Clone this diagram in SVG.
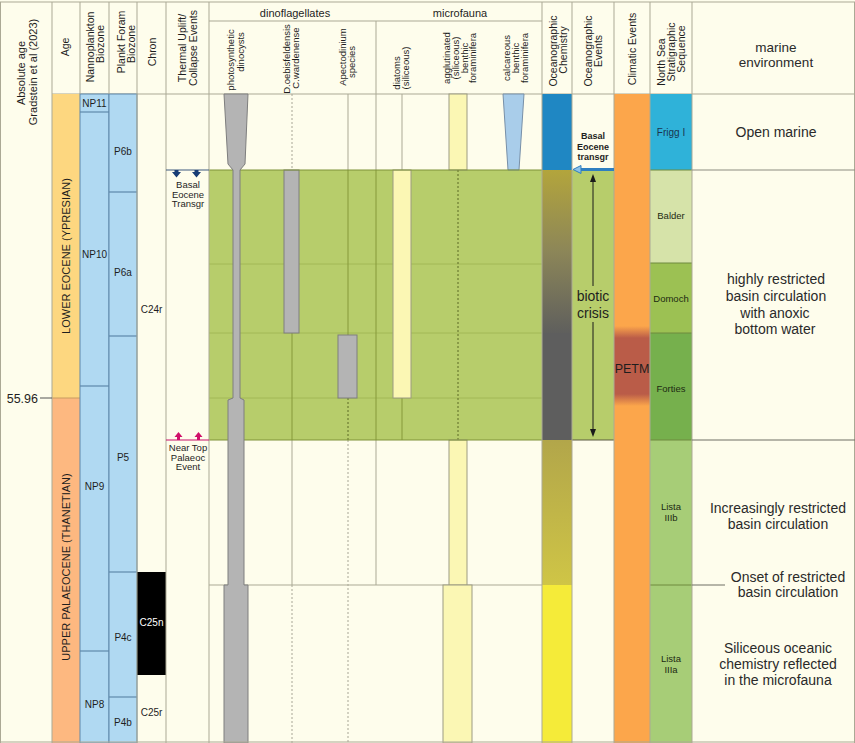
<svg xmlns="http://www.w3.org/2000/svg" width="855" height="743" viewBox="0 0 855 743">
<defs>
<style>
.t{font-family:"Liberation Sans",Arial,sans-serif;fill:#1e1e1e}
.h{font-size:10.5px;text-anchor:middle}
.s{font-size:9.5px;text-anchor:middle}
.z{font-size:10px;text-anchor:middle}
.env{font-size:14px;text-anchor:middle;fill:#2a2a2a}
.ns{font-size:9.5px;text-anchor:middle;fill:#1d2a12}
.grid{stroke:#ABA995;stroke-width:1;fill:none}
.dot{stroke:#A8A696;stroke-width:1;stroke-dasharray:2 2;fill:none}
.gl{stroke:#86993B;stroke-width:1;fill:none}
.gf{stroke:#A2B856;stroke-width:1;fill:none}
.gdot{stroke:#5C6B26;stroke-width:1;stroke-dasharray:2 2;fill:none}
.blue{fill:#B0D9F2;stroke:#5E88AA;stroke-width:1}
.bl{stroke:#5E88AA;stroke-width:1.2}
.bar{fill:#B4B4B4;stroke:#7E7E7E;stroke-width:1}
.yb{fill:#FBF7B4;stroke:#9C9B82;stroke-width:1}
.green{fill:#B7CD6B}
.nsb{stroke:#6E8A3E;stroke-width:1}
</style>
<linearGradient id="chem1" x1="0" y1="0" x2="0" y2="1">
<stop offset="0" stop-color="#B3A53C"/>
<stop offset="0.5" stop-color="#8C8658"/>
<stop offset="1" stop-color="#5F5F5D"/>
</linearGradient>
<linearGradient id="chem2" x1="0" y1="0" x2="0" y2="1">
<stop offset="0" stop-color="#B2A64A"/>
<stop offset="1" stop-color="#CFC546"/>
</linearGradient>
<linearGradient id="petm" x1="0" y1="0" x2="0" y2="1">
<stop offset="0" stop-color="#FCA64B"/>
<stop offset="0.15" stop-color="#BA5C48"/>
<stop offset="0.85" stop-color="#BA5C48"/>
<stop offset="1" stop-color="#FCA64B"/>
</linearGradient>
</defs>

<rect x="0" y="0" width="855" height="743" fill="#FEFDEC"/>

<!-- Header -->
<g id="header">
<line class="grid" x1="0" y1="2" x2="855" y2="2"/>
<line class="grid" x1="52" y1="94" x2="855" y2="94"/>
<line class="grid" x1="209" y1="21" x2="542" y2="21"/>
<line class="grid" x1="376" y1="21" x2="376" y2="94"/>
<text class="t" font-size="11" text-anchor="middle" transform="translate(24.5,73) rotate(-90)">Absolute age</text>
<text class="t" font-size="11" text-anchor="middle" transform="translate(36.5,72) rotate(-90)">Gradstein et al (2023)</text>
<text class="t h" transform="translate(68.7,47) rotate(-90)">Age</text>
<text class="t h" transform="translate(93.7,47) rotate(-90)">Nannoplankton</text>
<text class="t h" transform="translate(103.7,44) rotate(-90)">Biozone</text>
<text class="t h" transform="translate(124.7,42) rotate(-90)">Plankt Foram</text>
<text class="t h" transform="translate(134.7,44) rotate(-90)">Biozone</text>
<text class="t h" transform="translate(155.7,52) rotate(-90)">Chron</text>
<text class="t h" transform="translate(185.7,48) rotate(-90)">Thermal Uplift/</text>
<text class="t h" transform="translate(196.7,48) rotate(-90)">Collapse Events</text>
<text class="t" font-size="11" text-anchor="middle" x="295" y="17">dinoflagellates</text>
<text class="t" font-size="11" text-anchor="middle" x="460" y="17">microfauna</text>
<text class="t s" transform="translate(234.3,60) rotate(-90)">photosynthetic</text>
<text class="t s" transform="translate(244.3,52) rotate(-90)">dinocysts</text>
<text class="t s" transform="translate(290.3,59) rotate(-90)">D.oebisfeldensis</text>
<text class="t s" transform="translate(299.3,58) rotate(-90)">C.wardenense</text>
<text class="t s" transform="translate(346.3,57) rotate(-90)">Apectodinium</text>
<text class="t s" transform="translate(355.3,62) rotate(-90)">species</text>
<text class="t s" transform="translate(400.3,73) rotate(-90)">diatoms</text>
<text class="t s" transform="translate(409.3,68) rotate(-90)">(siliceous)</text>
<text class="t s" transform="translate(450.3,58) rotate(-90)">agglutinated</text>
<text class="t s" transform="translate(458.8,58) rotate(-90)">(siliceous)</text>
<text class="t s" transform="translate(467.8,58) rotate(-90)">benthic</text>
<text class="t s" transform="translate(476.3,58) rotate(-90)">foraminifera</text>
<text class="t s" transform="translate(510.3,58) rotate(-90)">calcareous</text>
<text class="t s" transform="translate(518.8,58) rotate(-90)">benthic</text>
<text class="t s" transform="translate(528.3,58) rotate(-90)">foraminifera</text>
<text class="t h" transform="translate(556.7,51) rotate(-90)">Oceanographic</text>
<text class="t h" transform="translate(566.7,50) rotate(-90)">Chemistry</text>
<text class="t h" transform="translate(592.2,51) rotate(-90)">Oceanographic</text>
<text class="t h" transform="translate(602.2,51) rotate(-90)">Events</text>
<text class="t h" transform="translate(635.7,49) rotate(-90)">Climatic Events</text>
<text class="t h" transform="translate(664.7,62) rotate(-90)">North Sea</text>
<text class="t h" transform="translate(674.7,52) rotate(-90)">Stratigraphic</text>
<text class="t h" transform="translate(684.7,49) rotate(-90)">Sequence</text>
<text class="t env" style="font-size:13.5px" x="776" y="51.5">marine</text>
<text class="t env" style="font-size:13.5px" x="776" y="67">environment</text>
</g>

<!-- Age column -->
<g id="age">
<rect x="52" y="94" width="28" height="304" fill="#FDD780"/>
<rect x="52" y="398" width="28" height="345" fill="#FDB880"/>
<line x1="52" y1="398" x2="80" y2="398" stroke="#C89A60"/>
<text class="t" font-size="11" text-anchor="middle" transform="translate(70,256) rotate(-90)">LOWER EOCENE (YPRESIAN)</text>
<text class="t" font-size="11" text-anchor="middle" transform="translate(70,567) rotate(-90)">UPPER PALAEOCENE (THANETIAN)</text>
<text class="t" font-size="12.5" text-anchor="end" x="38" y="402.5">55.96</text>
</g>

<!-- Nannoplankton biozones -->
<g id="nannoplankton">
<rect class="blue" x="80" y="94" width="29" height="649"/>
<line class="bl" x1="80" y1="112" x2="109" y2="112"/>
<line class="bl" x1="80" y1="386" x2="109" y2="386"/>
<line class="bl" x1="80" y1="651" x2="109" y2="651"/>
<text class="t z" x="94.5" y="106.5">NP11</text>
<text class="t z" x="94.5" y="257.5">NP10</text>
<text class="t z" x="94.5" y="489.5">NP9</text>
<text class="t z" x="94.5" y="707.5">NP8</text>
</g>

<!-- Plankt foram biozones -->
<g id="foram">
<rect class="blue" x="109" y="94" width="28" height="649"/>
<line class="bl" x1="109" y1="192" x2="137" y2="192"/>
<line class="bl" x1="109" y1="336" x2="137" y2="336"/>
<line class="bl" x1="109" y1="572" x2="137" y2="572"/>
<line class="bl" x1="109" y1="697" x2="137" y2="697"/>
<text class="t z" x="123" y="154.5">P6b</text>
<text class="t z" x="123" y="275.5">P6a</text>
<text class="t z" x="123" y="460.5">P5</text>
<text class="t z" x="123" y="640.5">P4c</text>
<text class="t z" x="123" y="725.5">P4b</text>
</g>

<!-- Chron -->
<g id="chron">
<rect x="137" y="572" width="29" height="103" fill="#000"/>
<text class="t z" x="151.5" y="312.5">C24r</text>
<text class="t z" x="151.5" y="625.5" style="fill:#fff">C25n</text>
<text class="t z" x="151.5" y="715.5">C25r</text>
</g>

<!-- Thermal events -->
<g id="thermal">
<text class="t" font-size="9.5" text-anchor="middle" x="188" y="188">Basal</text>
<text class="t" font-size="9.5" text-anchor="middle" x="188" y="197.5">Eocene</text>
<text class="t" font-size="9.5" text-anchor="middle" x="188" y="207">Transgr</text>
<text class="t" font-size="9.5" text-anchor="middle" x="188" y="451">Near Top</text>
<text class="t" font-size="9.5" text-anchor="middle" x="188" y="460.5">Palaeoc</text>
<text class="t" font-size="9.5" text-anchor="middle" x="188" y="470">Event</text>
</g>

<!-- Fossil range panel -->
<g id="biota">
<rect class="green" x="209" y="170" width="333" height="270"/>
<line class="gf" x1="209" y1="264" x2="542" y2="264"/>
<line class="gf" x1="209" y1="333" x2="542" y2="333"/>
<line class="gf" x1="209" y1="398" x2="542" y2="398"/>
<line class="dot" x1="292" y1="94" x2="292" y2="170"/>
<line class="grid" x1="348" y1="94" x2="348" y2="170"/>
<line class="grid" x1="376" y1="94" x2="376" y2="170"/>
<line class="grid" x1="402" y1="94" x2="402" y2="170"/>
<rect class="yb" x="449" y="94" width="18" height="76"/>
<polygon points="503,94 524,94 519,170 508,170" fill="#A9CDEA" stroke="#7890A8"/>
<line class="gl" x1="292" y1="333" x2="292" y2="440"/>
<line class="gl" x1="348" y1="170" x2="348" y2="335"/>
<line class="gdot" x1="348" y1="398" x2="348" y2="440"/>
<line class="gl" x1="376" y1="170" x2="376" y2="440"/>
<line class="gl" x1="402" y1="398" x2="402" y2="440"/>
<line class="gdot" x1="458" y1="170" x2="458" y2="440"/>
<rect class="bar" x="284" y="170" width="15" height="163"/>
<rect class="bar" x="338" y="335" width="19" height="63"/>
<rect class="yb" x="393" y="170" width="18" height="228" stroke="#7F9238"/>
<line class="grid" x1="292" y1="440" x2="292" y2="585"/>
<line class="dot" x1="292" y1="585" x2="292" y2="743"/>
<line class="dot" x1="348" y1="440" x2="348" y2="743"/>
<line class="grid" x1="376" y1="440" x2="376" y2="585"/>
<line class="grid" x1="209" y1="585" x2="542" y2="585"/>
<rect class="yb" x="449" y="440" width="18" height="145"/>
<rect class="yb" x="443" y="585" width="29" height="158"/>
<line x1="209" y1="170" x2="542" y2="170" stroke="#7F9238"/>
<line x1="209" y1="440" x2="542" y2="440" stroke="#7F9238"/>
<polygon class="bar" points="224,94 248,94 245,164 240,170 240,398 244,400 244,585 248,585 248,743 224,743 224,585 228,585 228,400 233,398 233,170 228,164"/>
</g>

<!-- Oceanographic chemistry -->
<g id="ocean-chemistry">
<rect x="542" y="94" width="30" height="76" fill="#1F87C3"/>
<rect x="542" y="170" width="30" height="163" fill="url(#chem1)"/>
<rect x="542" y="333" width="30" height="107" fill="#5E5E5E"/>
<rect x="542" y="440" width="30" height="145" fill="url(#chem2)"/>
<rect x="542" y="585" width="30" height="158" fill="#F5EB39"/>
</g>

<!-- Oceanographic events -->
<g id="ocean-events">
<rect class="green" x="572" y="170" width="42" height="270"/>
<line x1="572" y1="440" x2="614" y2="440" stroke="#5A5A40"/>
<text class="t" font-size="9" font-weight="bold" text-anchor="middle" x="593" y="138.5" fill="#2a2a2a">Basal</text>
<text class="t" font-size="9" font-weight="bold" text-anchor="middle" x="593" y="149.5" fill="#2a2a2a">Eocene</text>
<text class="t" font-size="9" font-weight="bold" text-anchor="middle" x="593" y="159.5" fill="#2a2a2a">transgr</text>
<text class="t" font-size="14" text-anchor="middle" x="593" y="301" fill="#333">biotic</text>
<text class="t" font-size="14" text-anchor="middle" x="593" y="318" fill="#333">crisis</text>
</g>

<!-- Climatic events -->
<g id="climatic">
<rect x="614" y="94" width="36" height="649" fill="#FCA64B"/>
<rect x="614" y="326" width="36" height="80" fill="url(#petm)"/>
<text class="t" font-size="12.5" text-anchor="middle" x="632" y="373" fill="#4A0E0E">PETM</text>
</g>

<!-- North Sea stratigraphic sequence -->
<g id="north-sea">
<rect x="650" y="94" width="42" height="76" fill="#2FB2D9"/>
<rect x="650" y="170" width="42" height="93" fill="#D6E3A9"/>
<rect x="650" y="263" width="42" height="70" fill="#9CC153"/>
<rect x="650" y="333" width="42" height="107" fill="#76B04D"/>
<rect x="650" y="440" width="42" height="145" fill="#A7CD77"/>
<rect x="650" y="585" width="42" height="158" fill="#A7CD77"/>
<line class="nsb" x1="650" y1="170" x2="692" y2="170"/>
<line class="nsb" x1="650" y1="263" x2="692" y2="263"/>
<line class="nsb" x1="650" y1="333" x2="692" y2="333"/>
<line class="nsb" x1="650" y1="440" x2="692" y2="440"/>
<line class="nsb" x1="650" y1="585" x2="692" y2="585"/>
<text class="t ns" x="671" y="135.5" style="fill:#1a3550;font-size:10px">Frigg I</text>
<text class="t ns" x="671" y="218.5">Balder</text>
<text class="t ns" x="671" y="301.5">Domoch</text>
<text class="t ns" x="671" y="391.5">Forties</text>
<text class="t ns" x="671" y="509.5">Lista</text>
<text class="t ns" x="671" y="521">IIIb</text>
<text class="t ns" x="671" y="661.5">Lista</text>
<text class="t ns" x="671" y="673">IIIa</text>
</g>

<!-- Marine environment -->
<g id="marine-environment">
<text class="t env" x="776" y="137">Open marine</text>
<text class="t env" x="776" y="284">highly restricted</text>
<text class="t env" x="776" y="301">basin circulation</text>
<text class="t env" x="775" y="318">with anoxic</text>
<text class="t env" x="775" y="334">bottom water</text>
<text class="t env" x="778" y="513">Increasingly restricted</text>
<text class="t env" x="778" y="529">basin circulation</text>
<text class="t env" x="788" y="582">Onset of restricted</text>
<text class="t env" x="788" y="597">basin circulation</text>
<text class="t env" x="778" y="653">Siliceous oceanic</text>
<text class="t env" x="778" y="669">chemistry reflected</text>
<text class="t env" x="778" y="685">in the microfauna</text>
</g>

<!-- Grid lines -->
<g id="grid">
<line class="grid" x1="52" y1="2" x2="52" y2="743"/>
<line class="grid" x1="80" y1="2" x2="80" y2="94"/>
<line class="grid" x1="109" y1="2" x2="109" y2="94"/>
<line class="grid" x1="137" y1="2" x2="137" y2="94"/>
<line class="grid" x1="137" y1="94" x2="137" y2="743" stroke="#5E88AA"/>
<line class="grid" x1="166" y1="2" x2="166" y2="743"/>
<line class="grid" x1="209" y1="2" x2="209" y2="743"/>
<line class="grid" x1="542" y1="2" x2="542" y2="743"/>
<line class="grid" x1="572" y1="2" x2="572" y2="743"/>
<line class="grid" x1="614" y1="2" x2="614" y2="743"/>
<line class="grid" x1="650" y1="2" x2="650" y2="743"/>
<line class="grid" x1="692" y1="2" x2="692" y2="743"/>
<line class="grid" x1="0" y1="742" x2="855" y2="742"/>
<line class="grid" x1="0.5" y1="2" x2="0.5" y2="743"/>
<line class="grid" x1="854.5" y1="2" x2="854.5" y2="743"/>
</g>

<!-- Connectors -->
<g id="connectors">
<line x1="40" y1="398" x2="52" y2="398" stroke="#555"/>
<line x1="166" y1="170" x2="209" y2="170" stroke="#3E5A7E" stroke-width="1.2"/>
<polygon points="174.5,170 178.5,170 178.5,172 181,172 176.5,177.5 172,172 174.5,172" fill="#173C74"/>
<polygon points="194.5,170 198.5,170 198.5,172 201,172 196.5,177.5 192,172 194.5,172" fill="#173C74"/>
<line x1="166" y1="440" x2="209" y2="440" stroke="#C8106A" stroke-width="1.2"/>
<polygon points="177,440 180,440 180,437 182.5,437 178.5,432 174.5,437 177,437" fill="#D0106A"/>
<polygon points="197,440 200,440 200,437 202.5,437 198.5,432 194.5,437 197,437" fill="#D0106A"/>
<line x1="580" y1="169.5" x2="614" y2="169.5" stroke="#2F7FC0" stroke-width="3"/>
<polygon points="573,169.5 581,165.5 581,173.5" fill="#8EC1E6" stroke="#2F7FC0" stroke-width="1"/>
<line x1="593" y1="180" x2="593" y2="286" stroke="#1a1a1a" stroke-width="1"/>
<polygon points="593,174 590,182 596,182" fill="#1a1a1a"/>
<line x1="593" y1="322" x2="593" y2="431" stroke="#1a1a1a" stroke-width="1"/>
<polygon points="593,437 590,429 596,429" fill="#1a1a1a"/>
<line x1="692" y1="170" x2="855" y2="170" stroke="#8C8C80"/>
<line x1="692" y1="440" x2="855" y2="440" stroke="#6E6E64"/>
<line x1="692" y1="585" x2="725" y2="585" stroke="#6E6E64"/>
</g>
</svg>
